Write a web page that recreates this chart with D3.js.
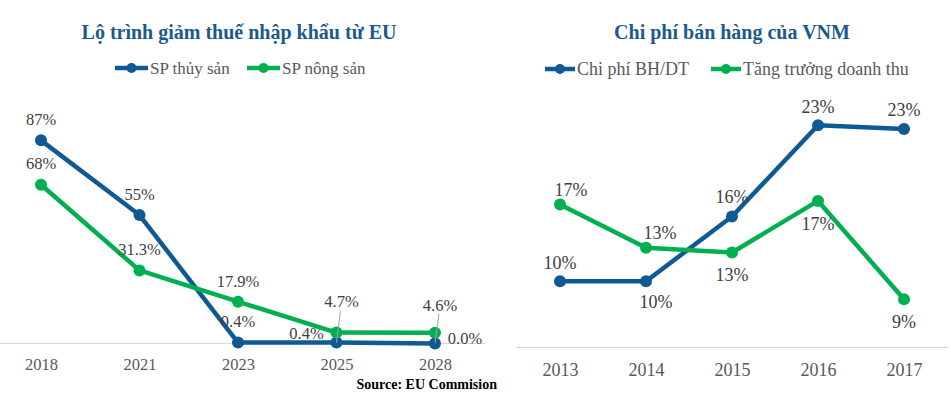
<!DOCTYPE html>
<html>
<head>
<meta charset="utf-8">
<script src="https://cdn.jsdelivr.net/npm/d3@7"></script>
<style>
  body { margin: 0; background: #fff; }
  text { font-family: "Liberation Serif", serif; }
</style>
</head>
<body>
<svg id="main" width="951" height="405"></svg>
<script>
// left chart: lo trinh giam thue
var taxYears = ['2018', '2021', '2023', '2025', '2028']
var thuySan = [87, 55, 0.4, 0.4, 0.0]
var nongSan = [68, 31.3, 17.9, 4.7, 4.6]
var thuySanLabels = ['87%', '55%', '0.4%', '0.4%', '0.0%']
var nongSanLabels = ['68%', '31.3%', '17.9%', '4.7%', '4.6%']

// right chart: chi phi ban hang VNM
var vnmYears = ['2013', '2014', '2015', '2016', '2017']
var chiPhi = [10.5, 10.5, 15.9, 23.5, 23.2]
var tangTruong = [16.9, 13.3, 12.9, 17.2, 9.0]
var chiPhiLabels = ['10%', '10%', '16%', '23%', '23%']
var tangTruongLabels = ['17%', '13%', '13%', '17%', '9%']

var BLUE = '#0e5a94', GREEN = '#00b050', TITLE = '#1c5a8c', GREY = '#595959'

var svg = d3.select('#main')

function drawChart(o) {
    var g = svg.append('g')
    var x = d3.scalePoint().domain(o.cats).range(o.xr)
    var y = d3.scaleLinear().domain(o.yd).range(o.yr)

    g.append('text').attr('x', o.titleX).attr('y', 32).attr('dy', '0.35em')
        .attr('text-anchor', 'middle').attr('fill', TITLE)
        .style('font-weight', 'bold').style('font-size', '20px')
        .text(o.title)

    // baseline
    g.append('line').attr('x1', o.axisX[0]).attr('x2', o.axisX[1])
        .attr('y1', y(o.yd[0])).attr('y2', y(o.yd[0]))
        .attr('stroke', '#d9d9d9').attr('stroke-width', 1.2)

    var ax = g.append('g').attr('transform', 'translate(0,' + y(o.yd[0]) + ')')
        .call(d3.axisBottom(x).tickSize(0).tickPadding(o.tickPad))
    ax.select('.domain').remove()
    ax.selectAll('text').attr('fill', GREY).style('font-size', o.tickFs)
        .style('font-family', '"Liberation Serif", serif')

    var line = d3.line().x(function(d) { return x(d.c) }).y(function(d) { return y(d.v) })

    o.series.forEach(function(s) {
        var pts = o.cats.map(function(c, i) { return { c: c, v: s.values[i], lab: s.labels[i], off: s.offsets[i], lead: s.leaders ? s.leaders[i] : 0 } })
        g.append('path').datum(pts).attr('d', line).attr('fill', 'none')
            .attr('stroke', s.color).attr('stroke-width', 4.5).attr('stroke-linejoin', 'round')
        g.selectAll(null).data(pts).enter().append('circle')
            .attr('cx', function(d) { return x(d.c) }).attr('cy', function(d) { return y(d.v) })
            .attr('r', 6).attr('fill', s.color)
        g.selectAll(null).data(pts.filter(function(d) { return d.lead })).enter().append('line')
            .attr('x1', function(d) { return x(d.c) + d.off[0] - 1 }).attr('y1', function(d) { return y(d.v) + d.off[1] + 9 })
            .attr('x2', function(d) { return x(d.c) }).attr('y2', function(d) { return y(d.v) + 10 })
            .attr('stroke', '#a6a6a6').attr('stroke-width', 1)
        g.selectAll(null).data(pts).enter().append('text')
            .attr('x', function(d) { return x(d.c) + d.off[0] }).attr('y', function(d) { return y(d.v) + d.off[1] })
            .attr('dy', '0.35em').attr('text-anchor', 'middle')
            .attr('fill', '#404040').style('font-size', o.labFs)
            .text(function(d) { return d.lab })
    })

    // legend
    var lg = g.append('g')
    o.series.forEach(function(s, i) {
        var lx = o.legendX[i]
        lg.append('line').attr('x1', lx).attr('x2', lx + o.legLen).attr('y1', o.legendY).attr('y2', o.legendY)
            .attr('stroke', s.color).attr('stroke-width', 4.5)
        lg.append('circle').attr('cx', lx + o.legLen / 2).attr('cy', o.legendY).attr('r', 5).attr('fill', s.color)
        lg.append('text').attr('x', lx + o.legLen + 2).attr('y', o.legendY).attr('dy', '0.35em')
            .attr('fill', GREY).style('font-size', o.legFs).text(s.name)
    })
}

drawChart({
    title: 'Lộ trình giảm thuế nhập khẩu từ EU', titleX: 239,
    cats: taxYears, xr: [41, 435], yd: [0, 100], yr: [343.5, 110],
    axisX: [0, 486], tickPad: 15, tickFs: '16.5px', labFs: '16.5px',
    legendX: [115, 247], legendY: 68, legLen: 33, legFs: '17px',
    series: [
        { name: 'SP thủy sản', color: BLUE, values: thuySan, labels: thuySanLabels,
          offsets: [[0, -21], [0, -21], [0, -21], [-30, -9], [30, -5]] },
        { name: 'SP nông sản', color: GREEN, values: nongSan, labels: nongSanLabels,
          offsets: [[0, -21], [0, -21], [0, -20], [5, -31], [5, -28]], leaders: [0, 0, 0, 1, 1] }
    ]
})

drawChart({
    title: 'Chi phí bán hàng của VNM', titleX: 732,
    cats: vnmYears, xr: [560, 904], yd: [5, 25], yr: [347.3, 107.3],
    axisX: [517, 948], tickPad: 16, tickFs: '18px', labFs: '18px',
    legendX: [545, 711], legendY: 69, legLen: 30, legFs: '18px',
    series: [
        { name: 'Chi phí BH/DT', color: BLUE, values: chiPhi, labels: chiPhiLabels,
          offsets: [[0, -19], [10, 20], [0, -20], [0, -19], [0, -19]] },
        { name: 'Tăng trưởng doanh thu', color: GREEN, values: tangTruong, labels: tangTruongLabels,
          offsets: [[11, -15], [14, -15], [0, 22], [0, 23], [0, 22]] }
    ]
})

svg.append('text').attr('x', 497).attr('y', 384).attr('dy', '0.35em').attr('text-anchor', 'end')
    .attr('fill', '#000').style('font-weight', 'bold').style('font-size', '14px')
    .text('Source: EU Commision')
</script>
</body>
</html>
